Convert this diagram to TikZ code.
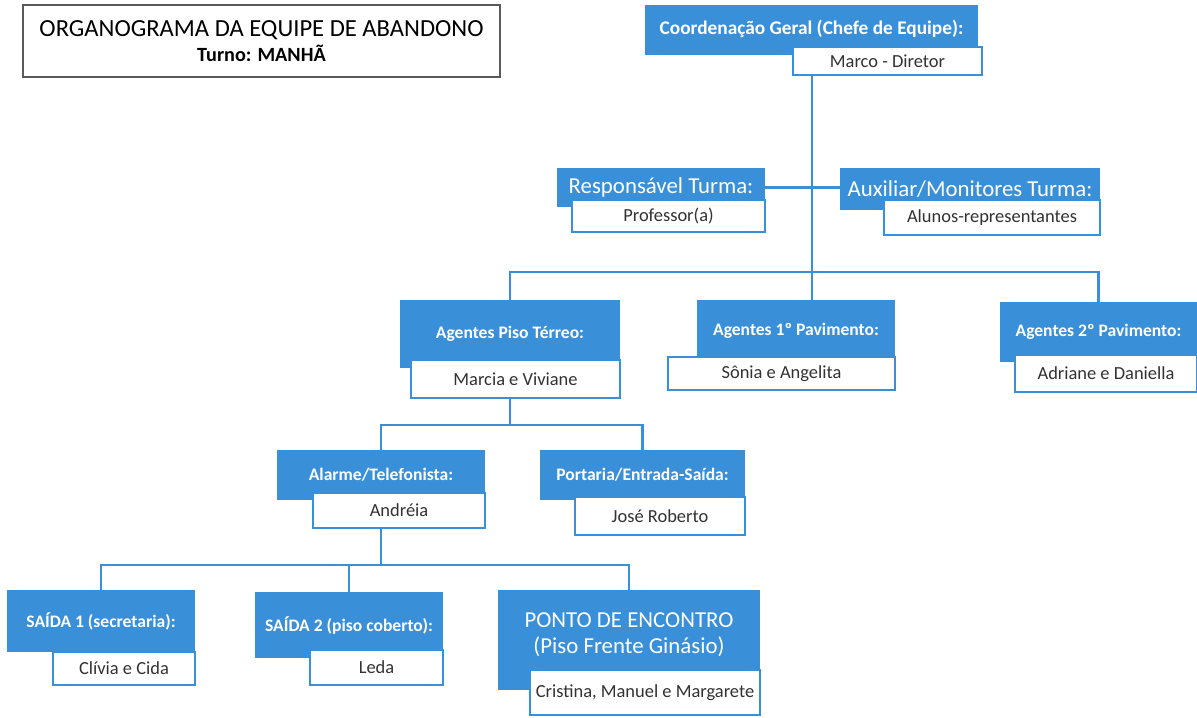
\documentclass[tikz,border=0pt]{standalone}
\usepackage{fontspec}
\setmainfont{Carlito}
\definecolor{orgblue}{RGB}{58,143,217}
\definecolor{nametext}{RGB}{50,50,50}
\definecolor{framegray}{RGB}{90,90,90}
\tikzset{
    boxsize/.style 2 args={minimum width=#1*0.02cm, minimum height=#2*0.02cm},
    header/.style={rectangle, fill=orgblue, text=white, inner sep=0pt,
                   align=center, font=\bfseries\fontsize{10}{12}\selectfont},
    headerbig/.style={header, font=\fontsize{13}{15.5}\selectfont},
    namebox/.style={rectangle, draw=orgblue, line width=1pt, fill=white,
                    text=nametext, inner sep=0pt, font=\fontsize{10.5}{12.5}\selectfont},
    link/.style={draw=orgblue, line width=1.6pt}
}

\begin{document}
\begin{tikzpicture}[x=0.02cm, y=-0.02cm]
    \useasboundingbox[fill=white] (0,0) rectangle (1197,717);

    % title
    \node[draw=framegray, line width=0.8pt, boxsize={477}{72}, align=center, inner sep=0pt] (title) at (261.5,41)
        {\fontsize{14}{17}\selectfont ORGANOGRAMA DA EQUIPE DE ABANDONO\\[2pt]
         \bfseries\fontsize{11.5}{13}\selectfont Turno: MANHÃ};

    % chefe de equipe
    \node[header, boxsize={333}{50}, font=\bfseries\fontsize{11}{13}\selectfont] (coord) at (811.5,30) {\raisebox{3pt}{Coordenação Geral (Chefe de Equipe):}};
    \node[namebox, boxsize={189}{28}] (marco) at (887.5,61) {Marco - Diretor};

    \node[headerbig, boxsize={208}{39}] (resp) at (661,187.5) {Responsável Turma:};
    \node[namebox, boxsize={193}{32}] (prof) at (668.5,216) {Professor(a)};
    \node[headerbig, boxsize={260}{42}] (aux) at (970,189) {Auxiliar/Monitores Turma:};
    \node[namebox, boxsize={216}{35}] (alunos) at (992,217.5) {Alunos-representantes};

    % agentes
    \node[header, boxsize={220}{68}] (agt0) at (510,334) {Agentes Piso Térreo:};
    \node[namebox, boxsize={209}{38}] (marcia) at (515.5,379) {Marcia e Viviane};
    \node[header, boxsize={198}{62}] (agt1) at (796,331) {Agentes 1º Pavimento:};
    \node[namebox, boxsize={227}{33}] (sonia) at (781.5,373.5) {Sônia e Angelita};
    \node[header, boxsize={197}{60}] (agt2) at (1098.5,332) {Agentes 2º Pavimento:};
    \node[namebox, boxsize={182}{37}] (adriane) at (1106,373.5) {Adriane e Daniella};

    \node[header, boxsize={208}{50}] (alarm) at (381,475) {Alarme/Telefonista:};
    \node[namebox, boxsize={172}{35}] (andreia) at (399,510.5) {Andréia};
    \node[header, boxsize={205}{50}] (portaria) at (642.5,475) {Portaria/Entrada-Saída:};
    \node[namebox, boxsize={170}{38}] (jose) at (660,516) {José Roberto};

    % saidas
    \node[header, boxsize={188}{62}] (saida1) at (101,621) {SAÍDA 1 (secretaria):};
    \node[namebox, boxsize={142}{33}] (clivia) at (124,668.5) {Clívia e Cida};
    \node[header, boxsize={188}{66}] (saida2) at (349,625) {SAÍDA 2 (piso coberto):};
    \node[namebox, boxsize={133}{35}] (leda) at (376.5,667.5) {Leda};
    \node[headerbig, boxsize={262}{100}] (ponto) at (629,640) {\raisebox{8pt}{\shortstack{PONTO DE ENCONTRO\\[2pt](Piso Frente Ginásio)}}};
    \node[namebox, boxsize={230}{45}] (cristina) at (645,692.5) {Cristina, Manuel e Margarete};

    % ligacoes
    \coordinate (trunk) at (812,0);
    \coordinate (bus1) at (0,272);
    \coordinate (bus2) at (0,425);
    \coordinate (bus3) at (0,565);
    \draw[link] (marco.south -| trunk) -- (agt1.north -| trunk);
    \draw[link] (resp.east) -- (resp.east -| aux.west);
    \draw[link] (agt0.north) |- (bus1 -| agt2.north) -- (agt2.north);
    \draw[link] (marcia.south -| agt0.north) -- (bus2 -| agt0.north);
    \draw[link] (alarm.north) |- (bus2 -| portaria.north) -- (portaria.north);
    \draw[link] (andreia.south -| alarm.north) -- (bus3 -| alarm.north);
    \draw[link] (saida1.north) |- (bus3 -| ponto.north) -- (ponto.north);
    \draw[link] (saida2.north) -- (saida2.north |- bus3);
\end{tikzpicture}
\end{document}
